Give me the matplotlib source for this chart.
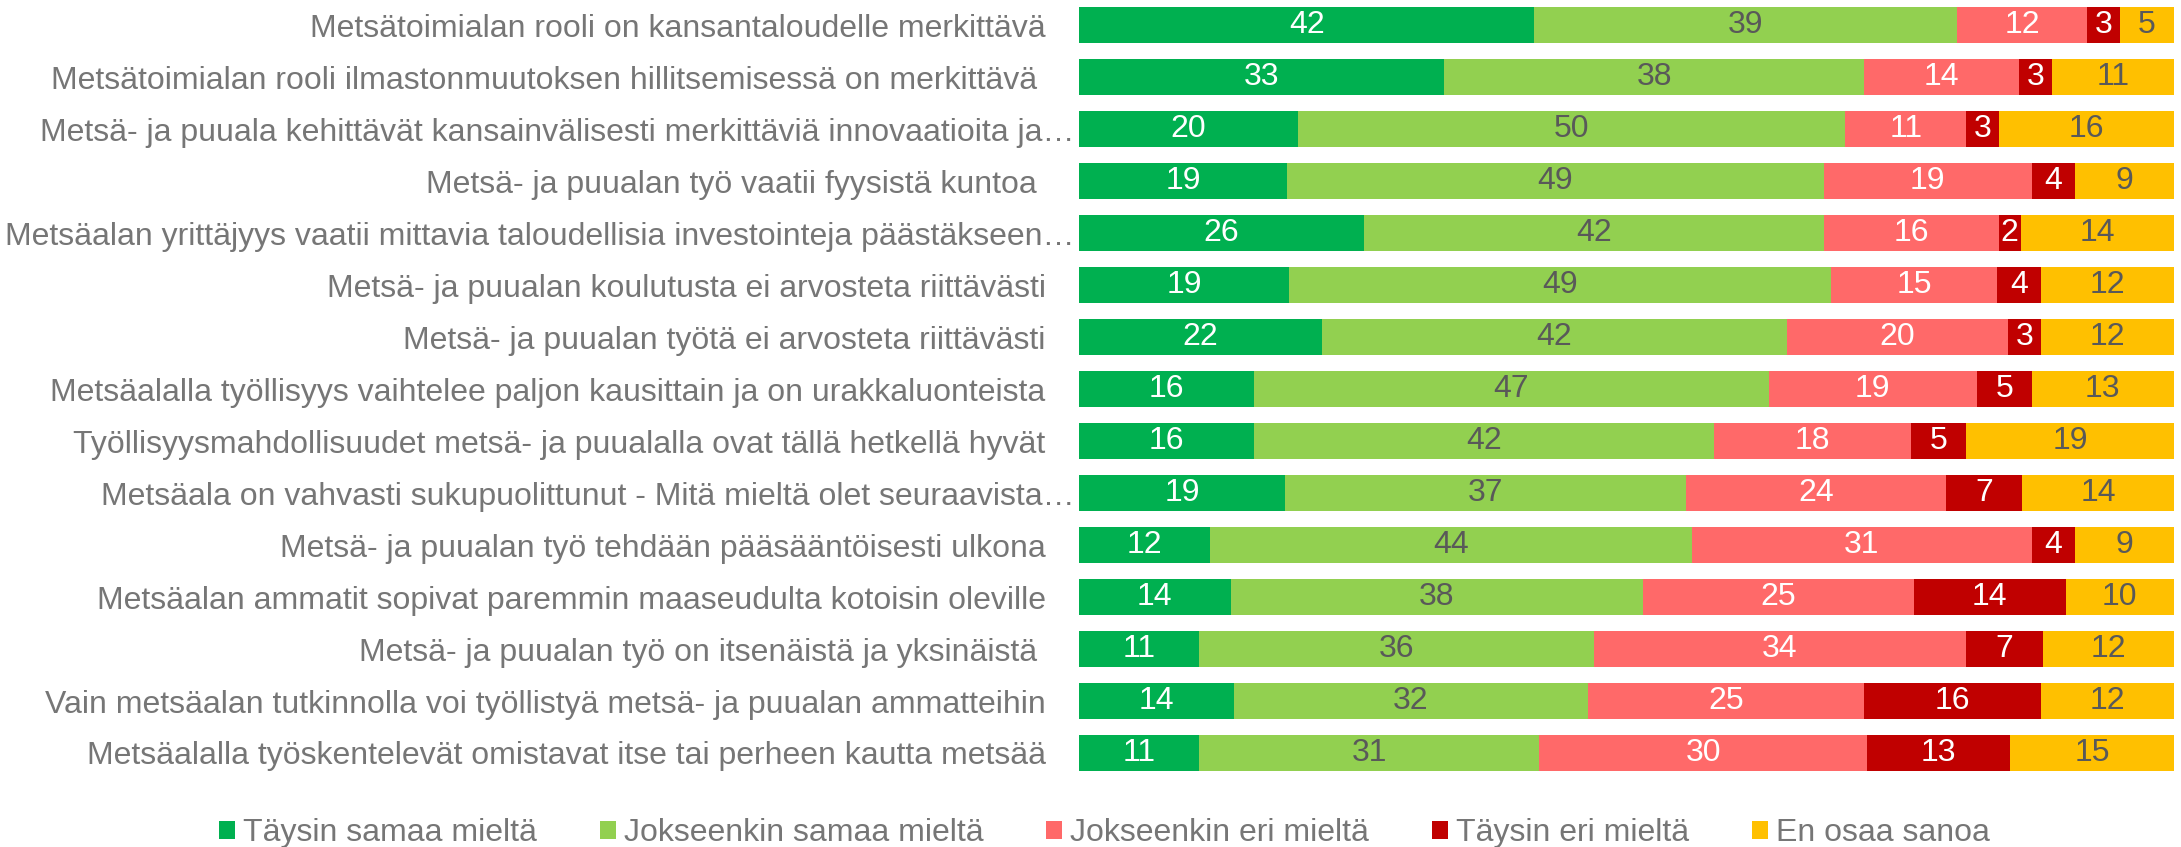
import numpy as np
import matplotlib
matplotlib.use("Agg")
import matplotlib.pyplot as plt
import matplotlib.transforms as mtransforms

plt.rcParams['font.family'] = ['Liberation Sans', 'DejaVu Sans']

# statements, top to bottom
statements = [
    "Metsätoimialan rooli on kansantaloudelle merkittävä",
    "Metsätoimialan rooli ilmastonmuutoksen hillitsemisessä on merkittävä ",
    "Metsä- ja puuala kehittävät kansainvälisesti merkittäviä innovaatioita ja…",
    "Metsä- ja puualan työ vaatii fyysistä kuntoa ",
    "Metsäalan yrittäjyys vaatii mittavia taloudellisia investointeja päästäkseen…",
    "Metsä- ja puualan koulutusta ei arvosteta riittävästi",
    "Metsä- ja puualan työtä ei arvosteta riittävästi",
    "Metsäalalla työllisyys vaihtelee paljon kausittain ja on urakkaluonteista",
    "Työllisyysmahdollisuudet metsä- ja puualalla ovat tällä hetkellä hyvät",
    "Metsäala on vahvasti sukupuolittunut - Mitä mieltä olet seuraavista…",
    "Metsä- ja puualan työ tehdään pääsääntöisesti ulkona",
    "Metsäalan ammatit sopivat paremmin maaseudulta kotoisin oleville",
    "Metsä- ja puualan työ on itsenäistä ja yksinäistä ",
    "Vain metsäalan tutkinnolla voi työllistyä metsä- ja puualan ammatteihin",
    "Metsäalalla työskentelevät omistavat itse tai perheen kautta metsää",
]

answers = ["Täysin samaa mieltä", "Jokseenkin samaa mieltä", "Jokseenkin eri mieltä",
           "Täysin eri mieltä", "En osaa sanoa"]

taysin_samaa = [42, 33, 20, 19, 26, 19, 22, 16, 16, 19, 12, 14, 11, 14, 11]
jokseenkin_samaa = [39, 38, 50, 49, 42, 49, 42, 47, 42, 37, 44, 38, 36, 32, 31]
jokseenkin_eri = [12, 14, 11, 19, 16, 15, 20, 19, 18, 24, 31, 25, 34, 25, 30]
taysin_eri = [3, 3, 3, 4, 2, 4, 3, 5, 5, 7, 4, 14, 7, 16, 13]
en_osaa = [5, 11, 16, 9, 14, 12, 12, 13, 19, 14, 9, 10, 12, 12, 15]

colors = ["#00B050", "#92D050", "#FF6969", "#C00000", "#FFC000"]
text_colors = ["white", "#595959", "white", "white", "#595959"]
gray = "#767676"

series = np.array([taysin_samaa, jokseenkin_samaa, jokseenkin_eri, taysin_eri, en_osaa], dtype=float)
shares = series / series.sum(axis=0) * 100

fig = plt.figure(figsize=(21.81, 8.47), dpi=100)
ax = fig.add_axes([0.4947, 0.0803, 0.5021, 0.9207])

y = np.arange(len(statements))
left = np.zeros(len(statements))
for i, name in enumerate(answers):
    bars = ax.barh(y, shares[i], left=left, height=0.69, color=colors[i], label=name)
    for j, b in enumerate(bars):
        ax.text(b.get_x() + b.get_width() / 2, b.get_y() + b.get_height() / 2,
                str(int(series[i, j])), ha='center', va='center',
                color=text_colors[i], fontsize=23)
    left += shares[i]

ax.set_xlim(0, 100)
ax.set_ylim(len(statements) - 0.5, -0.5)
ax.set_yticks(y)
ax.set_yticklabels(statements, fontsize=23, color=gray)
ax.tick_params(axis='y', length=0, pad=24)
ax.set_xticks([])
for s in ax.spines.values():
    s.set_visible(False)

# truncated labels run up to the bars, like in the original
shift = mtransforms.ScaledTranslation(21 / 72, 0, fig.dpi_scale_trans)
for lab in ax.get_yticklabels():
    if lab.get_text().endswith("…"):
        lab.set_transform(lab.get_transform() + shift)

fig.legend(loc='center', bbox_to_anchor=(0.5064, 0.0165), ncol=5, frameon=False,
           fontsize=23, labelcolor=gray, handlelength=0.5, handleheight=0.5,
           handletextpad=0.25, columnspacing=1.97)

fig.savefig("out.png", dpi=100)
